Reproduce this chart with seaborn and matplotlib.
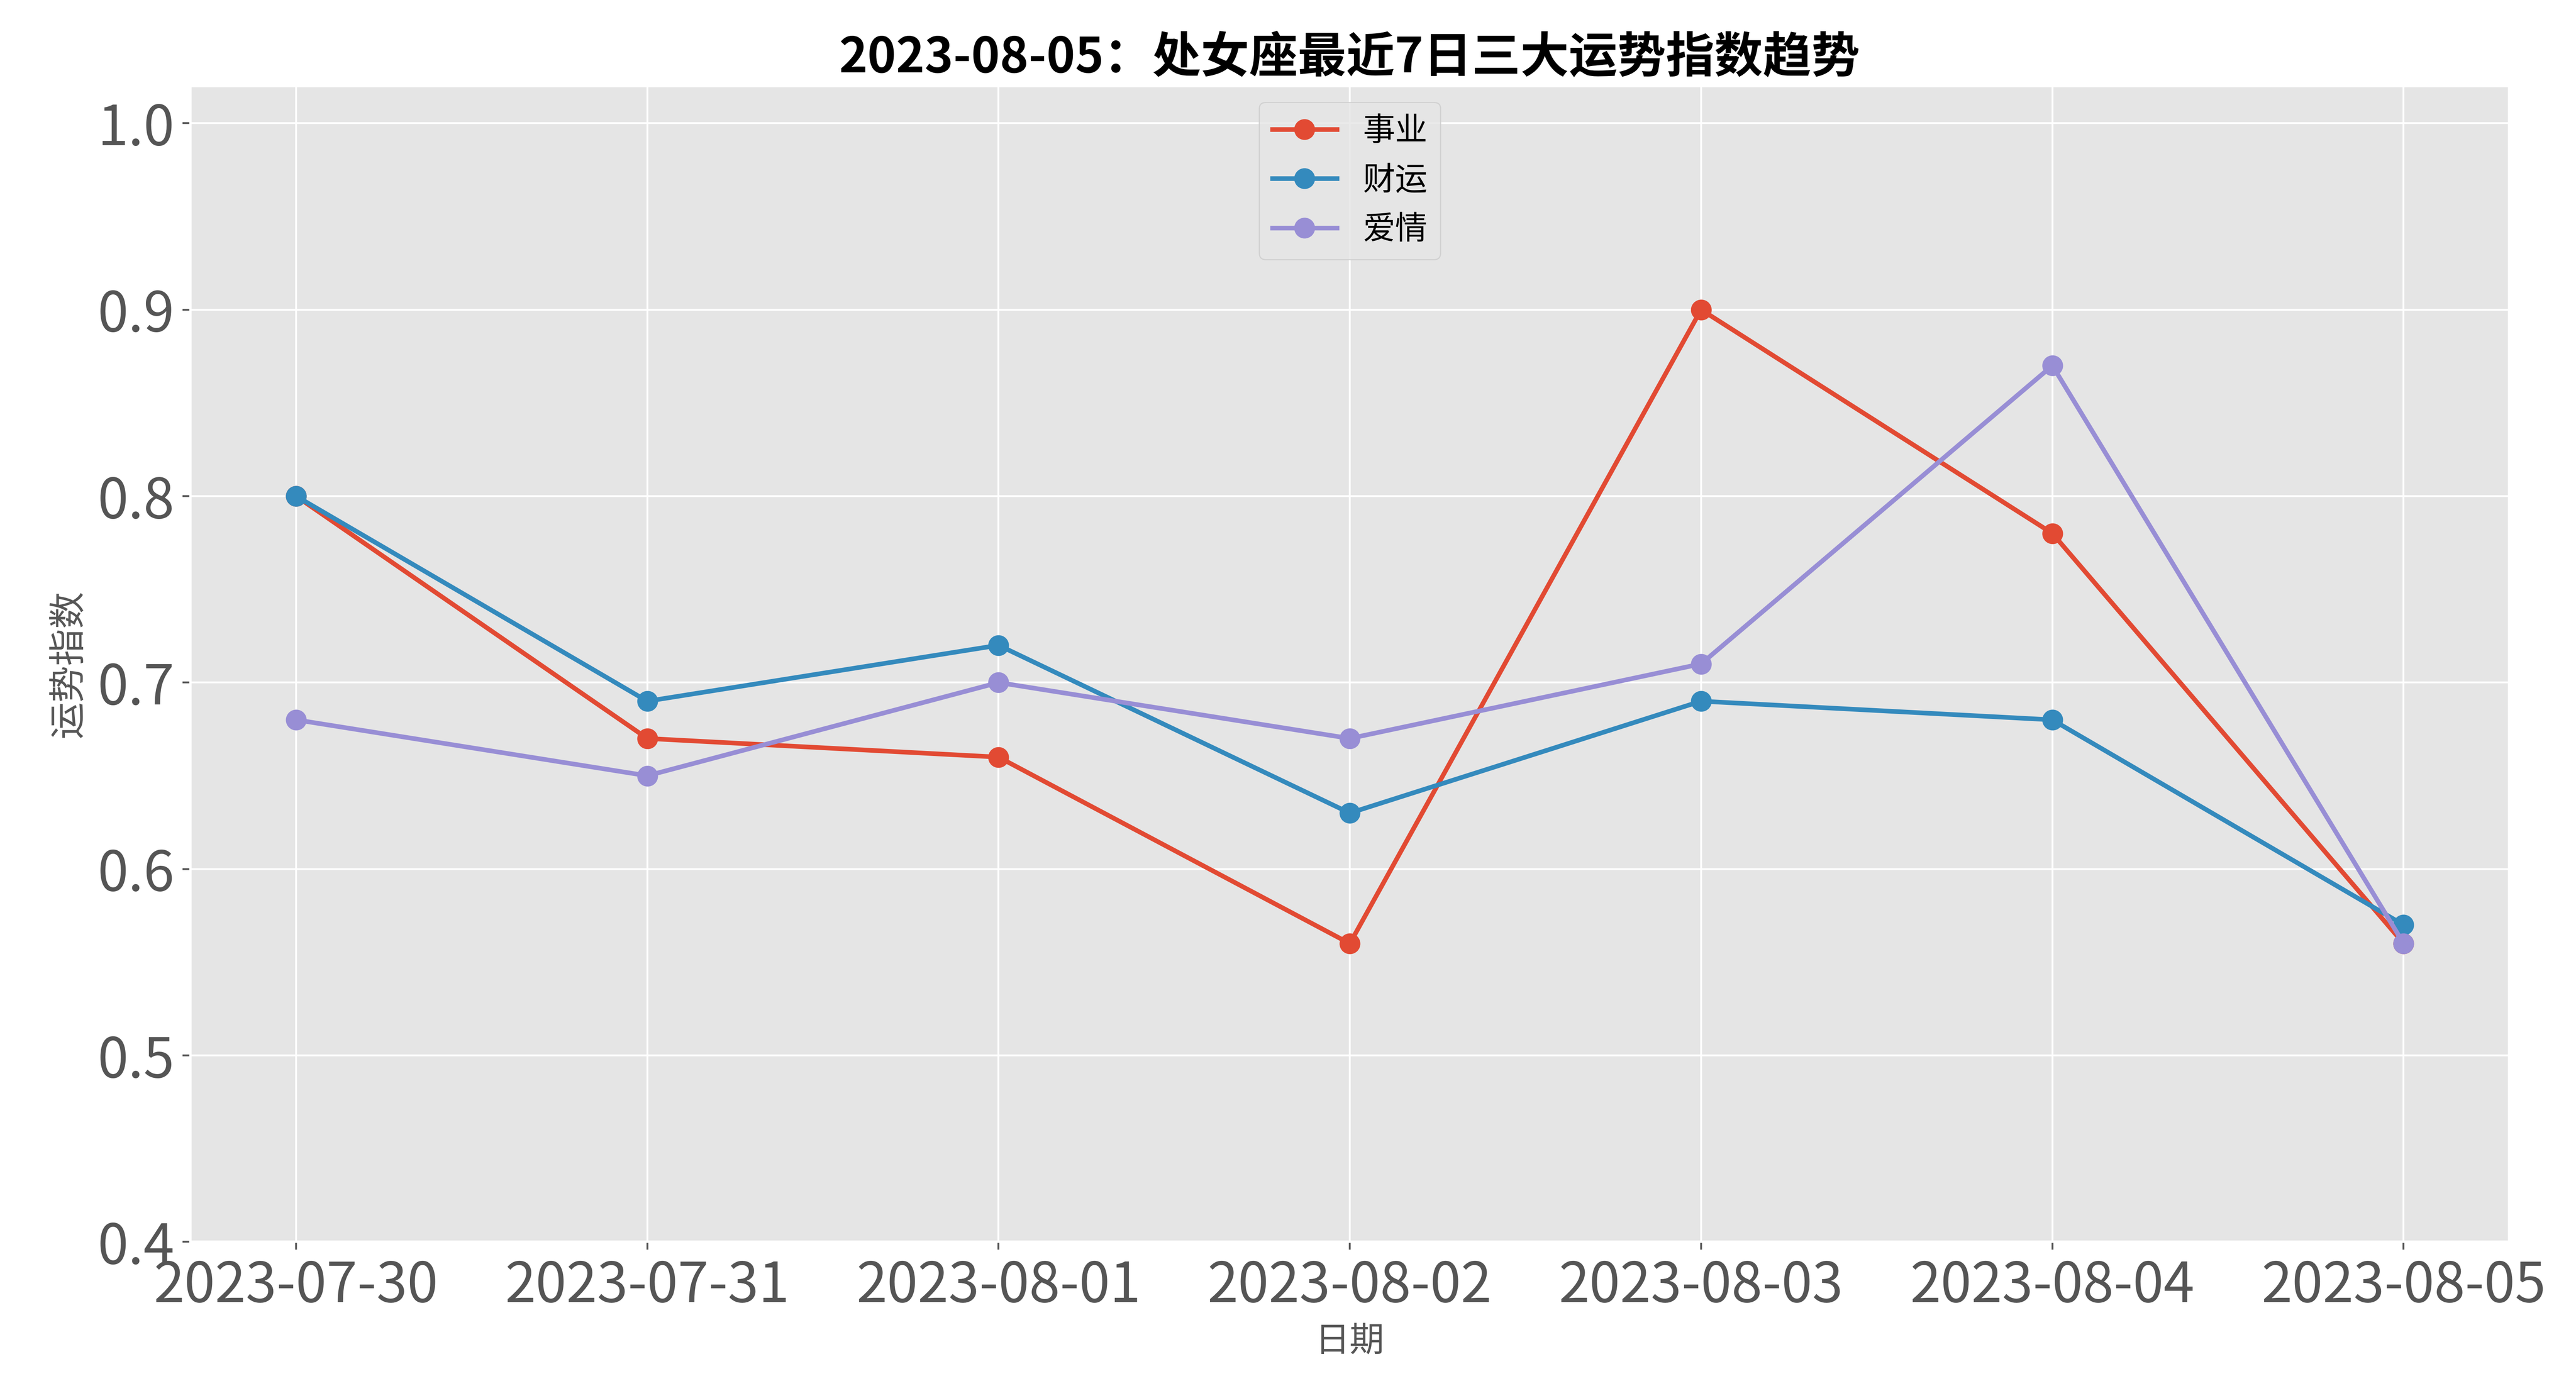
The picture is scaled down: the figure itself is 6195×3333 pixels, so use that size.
import pandas as pd
import numpy as np
import matplotlib
matplotlib.use('Agg')
import matplotlib.pyplot as plt
import seaborn as sns

dates = ['2023-07-30', '2023-07-31', '2023-08-01', '2023-08-02', '2023-08-03', '2023-08-04', '2023-08-05']
career = [0.80, 0.67, 0.66, 0.56, 0.90, 0.78, 0.56]
wealth = [0.80, 0.69, 0.72, 0.63, 0.69, 0.68, 0.57]
love = [0.68, 0.65, 0.70, 0.67, 0.71, 0.87, 0.56]
series_names = ['事业', '财运', '爱情']
colors = ['#E24A33', '#348ABD', '#988ED5']

plt.style.use('ggplot')
plt.rcParams['font.family'] = ['Noto Sans CJK SC', 'DejaVu Sans']
plt.rcParams['axes.unicode_minus'] = False

df = pd.DataFrame({
    '日期': dates * 3,
    '指数': career + wealth + love,
    '类型': [n for n in series_names for _ in dates],
})

fig, ax = plt.subplots(figsize=(15.4875, 8.3325), dpi=400)
fig.subplots_adjust(left=0.074, right=0.974, top=0.938, bottom=0.104)

sns.lineplot(data=df, x='日期', y='指数', hue='类型', palette=colors,
             marker='o', markersize=9, markeredgewidth=0, linewidth=2,
             sort=False, ax=ax)

ax.set_ylim(0.4, 1.02)
ax.set_yticks(np.arange(0.4, 1.01, 0.1))
ax.tick_params(axis='both', labelsize=24)
ax.set_title('2023-08-05：处女座最近7日三大运势指数趋势', fontsize=21, fontweight='bold')
ax.set_xlabel('日期', fontsize=15)
ax.set_ylabel('运势指数', fontsize=16)
ax.legend(loc='upper center', fontsize=14, title=None)

fig.savefig('out.png', dpi=400)
